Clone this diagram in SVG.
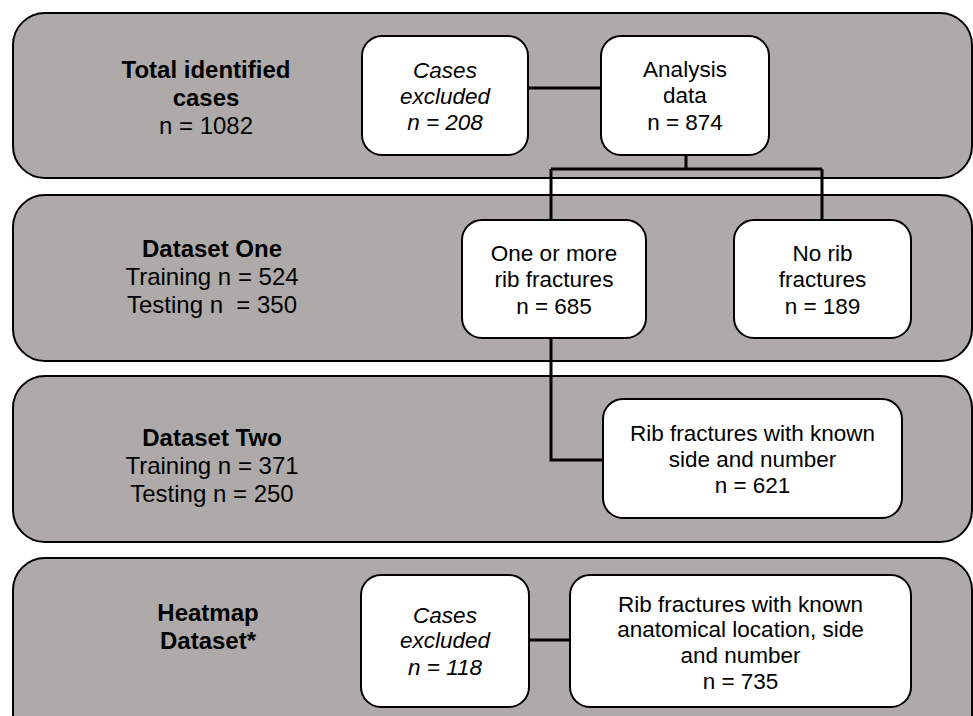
<svg xmlns="http://www.w3.org/2000/svg" width="973" height="716" viewBox="0 0 973 716">
<style>
.panel{fill:#aeaaa9;stroke:#000;stroke-width:2}
.node{fill:#fff;stroke:#000;stroke-width:2}
.conn{fill:none;stroke:#000;stroke-width:3}
text{font-family:"Liberation Sans",Arial,sans-serif;text-anchor:middle;fill:#000}
.pl{font-size:24px}
.b{font-weight:bold}
.nt{font-size:22.5px}
.i{font-style:italic}
</style>
<rect width="973" height="716" fill="#fff"/>
<g id="panel-total">
<rect class="panel" x="13" y="13" width="959" height="165" rx="32"/>
<text class="pl b" x="206" y="78">Total identified</text>
<text class="pl b" x="206" y="106">cases</text>
<text class="pl" x="206" y="134">n = 1082</text>
</g>
<g id="panel-dataset-one">
<rect class="panel" x="13" y="195" width="959" height="166" rx="32"/>
<text class="pl b" x="212" y="257">Dataset One</text>
<text class="pl" x="212" y="285">Training n = 524</text>
<text class="pl" x="212" y="313" xml:space="preserve">Testing n  = 350</text>
</g>
<g id="panel-dataset-two">
<rect class="panel" x="13" y="376" width="959" height="166" rx="32"/>
<text class="pl b" x="212" y="446">Dataset Two</text>
<text class="pl" x="212" y="474">Training n = 371</text>
<text class="pl" x="212" y="502">Testing n = 250</text>
</g>
<g id="panel-heatmap">
<rect class="panel" x="13" y="558" width="959" height="190" rx="32"/>
<text class="pl b" x="208" y="621">Heatmap</text>
<text class="pl b" x="208" y="649">Dataset*</text>
</g>
<g id="connectors">
<path class="conn" d="M528 88H601"/>
<path class="conn" d="M686 155V169M551 169H822M551 169V220M822 169V220"/>
<path class="conn" d="M551 338V460H603"/>
<path class="conn" d="M529 640H570"/>
</g>
<g id="cases-excluded-1">
<rect class="node" x="362" y="36" width="166" height="119" rx="20"/>
<text class="nt i" x="445" y="78">Cases</text>
<text class="nt i" x="445" y="104">excluded</text>
<text class="nt i" x="445" y="130">n = 208</text>
</g>
<g id="analysis-data">
<rect class="node" x="601" y="36" width="168" height="119" rx="20"/>
<text class="nt" x="685" y="77">Analysis</text>
<text class="nt" x="685" y="103">data</text>
<text class="nt" x="685" y="130">n = 874</text>
</g>
<g id="one-or-more">
<rect class="node" x="462" y="220" width="184" height="118" rx="20"/>
<text class="nt" x="554" y="261">One or more</text>
<text class="nt" x="554" y="287">rib fractures</text>
<text class="nt" x="554" y="314">n = 685</text>
</g>
<g id="no-rib">
<rect class="node" x="734" y="220" width="177" height="118" rx="20"/>
<text class="nt" x="822.5" y="261">No rib</text>
<text class="nt" x="822.5" y="287">fractures</text>
<text class="nt" x="822.5" y="314">n = 189</text>
</g>
<g id="known-side-number">
<rect class="node" x="603" y="399" width="299" height="119" rx="20"/>
<text class="nt" x="752.5" y="441">Rib fractures with known</text>
<text class="nt" x="752.5" y="467">side and number</text>
<text class="nt" x="752.5" y="493">n = 621</text>
</g>
<g id="cases-excluded-2">
<rect class="node" x="361" y="575" width="168" height="132" rx="20"/>
<text class="nt i" x="445" y="623">Cases</text>
<text class="nt i" x="445" y="648">excluded</text>
<text class="nt i" x="445" y="675">n = 118</text>
</g>
<g id="known-location">
<rect class="node" x="570" y="575" width="341" height="132" rx="20"/>
<text class="nt" x="740.5" y="612">Rib fractures with known</text>
<text class="nt" x="740.5" y="637">anatomical location, side</text>
<text class="nt" x="740.5" y="663">and number</text>
<text class="nt" x="740.5" y="689">n = 735</text>
</g>
</svg>
